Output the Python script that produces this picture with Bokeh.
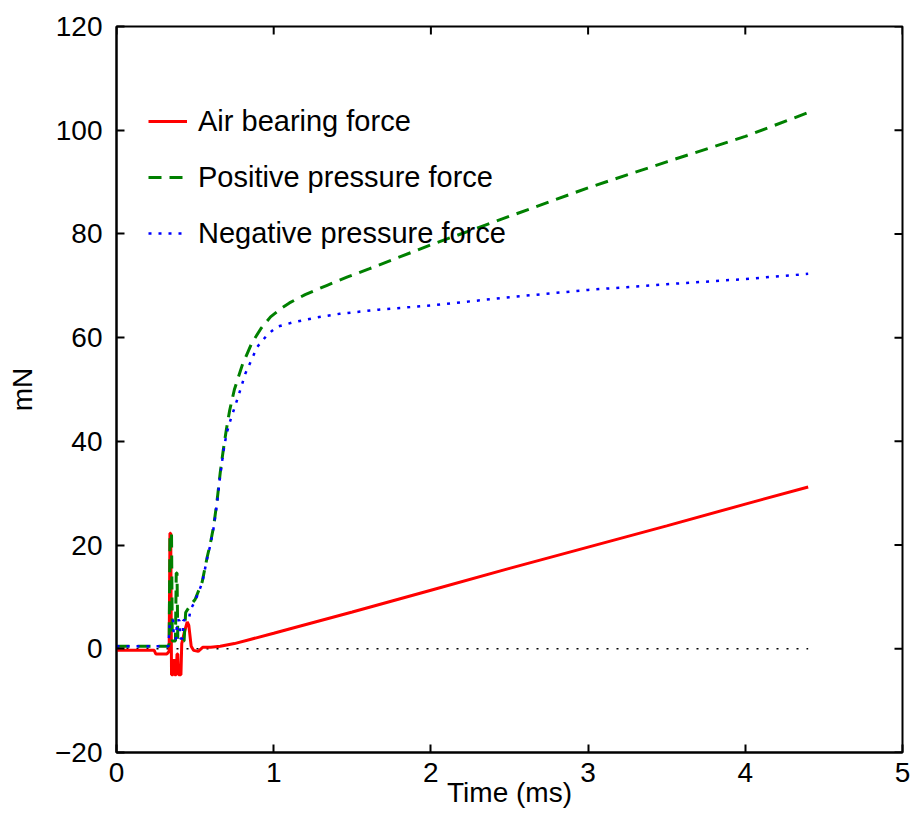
from bokeh.plotting import figure
from bokeh.models import FixedTicker, Legend, LegendItem, Range1d
from bokeh.embed import file_html
from bokeh.resources import INLINE

# ---- data ----
air_t = [0.00, 0.24, 0.25, 0.32, 0.335, 0.34, 0.345, 0.35, 0.36, 0.365, 0.37, 0.38,
         0.385, 0.39, 0.395, 0.41, 0.415, 0.43, 0.45, 0.46, 0.475, 0.49, 0.52, 0.55,
         0.60, 0.66, 0.75, 0.85, 1.00, 1.17, 1.50, 2.00, 2.50, 3.00, 3.50, 4.00, 4.40]
air_v = [-0.3, -0.3, -1.0, -1.0, -0.5, 22.3, 22.3, -5.0, -5.0, -2.0, -5.0, -5.0,
         -1.0, -1.0, -5.0, -5.0, 1.0, 3.0, 5.2, 4.5, 0.5, -0.3, -0.5, 0.3,
         0.3, 0.5, 1.0, 1.8, 3.0, 4.4, 7.1, 11.3, 15.5, 19.6, 23.7, 27.9, 31.2]

pos_t = [0.00, 0.33, 0.335, 0.34, 0.35, 0.355, 0.375, 0.38, 0.385, 0.39, 0.43, 0.44,
         0.47, 0.50, 0.545, 0.577, 0.597, 0.619, 0.64, 0.66, 0.68, 0.70, 0.72, 0.75,
         0.80, 0.86, 0.92, 0.98, 1.05, 1.10, 1.20, 1.34, 1.47, 1.61, 2.00, 2.50, 3.00,
         3.50, 4.00, 4.40]
pos_v = [0.5, 0.5, 1.0, 22.3, 22.3, 1.5, 1.5, 14.6, 14.6, 1.5, 1.5, 7.0,
         8.4, 9.5, 12.9, 17.7, 20.3, 23.8, 28.6, 34.0, 38.5, 42.5, 46.0, 50.0,
         54.7, 58.9, 61.8, 64.0, 65.7, 66.7, 68.3, 70.1, 71.7, 73.3, 77.9, 83.4, 88.9,
         93.9, 98.8, 103.4]

neg_t = [0.00, 0.33, 0.34, 0.36, 0.365, 0.38, 0.385, 0.40, 0.405, 0.42, 0.425, 0.46,
         0.47, 0.50, 0.545, 0.577, 0.597, 0.619, 0.64, 0.66, 0.68, 0.70, 0.725, 0.777,
         0.82, 0.863, 0.895, 0.958, 1.02, 1.117, 1.276, 1.42, 1.666, 2.00, 2.50, 3.00,
         3.50, 4.00, 4.40]
neg_v = [0.5, 0.5, 5.5, 5.5, 2.0, 2.0, 5.5, 5.5, 2.0, 2.0, 5.5, 5.5,
         7.5, 9.2, 12.7, 17.5, 20.0, 23.5, 28.2, 33.5, 38.0, 41.5, 44.1, 48.9,
         53.1, 56.0, 58.2, 60.5, 62.1, 62.9, 63.9, 64.6, 65.4, 66.2, 67.8, 69.2,
         70.3, 71.3, 72.3]

zero_t = [0.0, 4.4]
zero_v = [0.0, 0.0]

x_ticks = [0, 1, 2, 3, 4, 5]
y_ticks = [-20, 0, 20, 40, 60, 80, 100, 120]
y_tick_labels = {-20: "\u221220"}

series_labels = ["Air bearing force", "Positive pressure force", "Negative pressure force"]

FONT = "Liberation Sans"
X0, X1 = 0, 5
Y0, Y1 = -20, 120
FRAME_W, FRAME_H = 786, 726
TICK_PX = 8

p = figure(width=911, height=819, x_range=Range1d(X0, X1), y_range=Range1d(Y0, Y1),
           output_backend="svg", toolbar_location=None,
           min_border_left=116, min_border_right=9, min_border_top=26, min_border_bottom=67)
p.xgrid.visible = False
p.ygrid.visible = False
p.background_fill_color = "white"
p.border_fill_color = "white"
p.outline_line_color = "black"
p.outline_line_width = 2

xa = p.xaxis[0]
ya = p.yaxis[0]
for ax, ticks in ((xa, x_ticks), (ya, y_ticks)):
    ax.ticker = FixedTicker(ticks=ticks)
    ax.minor_tick_line_color = None
    ax.major_tick_in = TICK_PX
    ax.major_tick_out = 0
    ax.major_tick_line_width = 2
    ax.major_tick_line_color = "black"
    ax.axis_line_color = "black"
    ax.axis_line_width = 2
    ax.major_label_text_font = FONT
    ax.major_label_text_color = "black"
    ax.major_label_text_font_size = "28px"
    ax.axis_label_text_font = FONT
    ax.axis_label_text_font_size = "28px"
    ax.axis_label_text_font_style = "normal"
    ax.axis_label_text_color = "black"
ya.major_label_overrides = y_tick_labels
xa.major_label_standoff = 10
ya.major_label_standoff = 14
xa.axis_label = "Time (ms)"
ya.axis_label = "mN"
xa.axis_label_standoff = -8
ya.axis_label_standoff = 14

# inward ticks on the top and right edges of the box (MATLAB "box on")
dx = TICK_PX * (X1 - X0) / FRAME_W
dy = TICK_PX * (Y1 - Y0) / FRAME_H
p.segment(x0=x_ticks, x1=x_ticks, y0=[Y1] * len(x_ticks), y1=[Y1 - dy] * len(x_ticks),
          line_color="black", line_width=2)
p.segment(x0=[X1] * len(y_ticks), x1=[X1 - dx] * len(y_ticks), y0=y_ticks, y1=y_ticks,
          line_color="black", line_width=2)

p.line(zero_t, zero_v, line_color="black", line_width=1.5, line_dash="2 8")
r1 = p.line(air_t, air_v, line_color="#ff0000", line_width=3)
r2 = p.line(pos_t, pos_v, line_color="#008000", line_width=3, line_dash="13 8")
r3 = p.line(neg_t, neg_v, line_color="#0000ff", line_width=2.5, line_dash="3 7")

legend = Legend(items=[LegendItem(label=series_labels[0], renderers=[r1]),
                       LegendItem(label=series_labels[1], renderers=[r2]),
                       LegendItem(label=series_labels[2], renderers=[r3])],
                location=(32, 491))
legend.border_line_color = None
legend.background_fill_alpha = 0
legend.padding = 0
legend.margin = 0
legend.spacing = 0
legend.label_height = 56
legend.glyph_height = 56
legend.glyph_width = 39
legend.label_standoff = 11
legend.label_text_font = FONT
legend.label_text_font_size = "29px"
legend.label_text_color = "black"
p.add_layout(legend)

open("out.html", "w").write(file_html(p, INLINE))
